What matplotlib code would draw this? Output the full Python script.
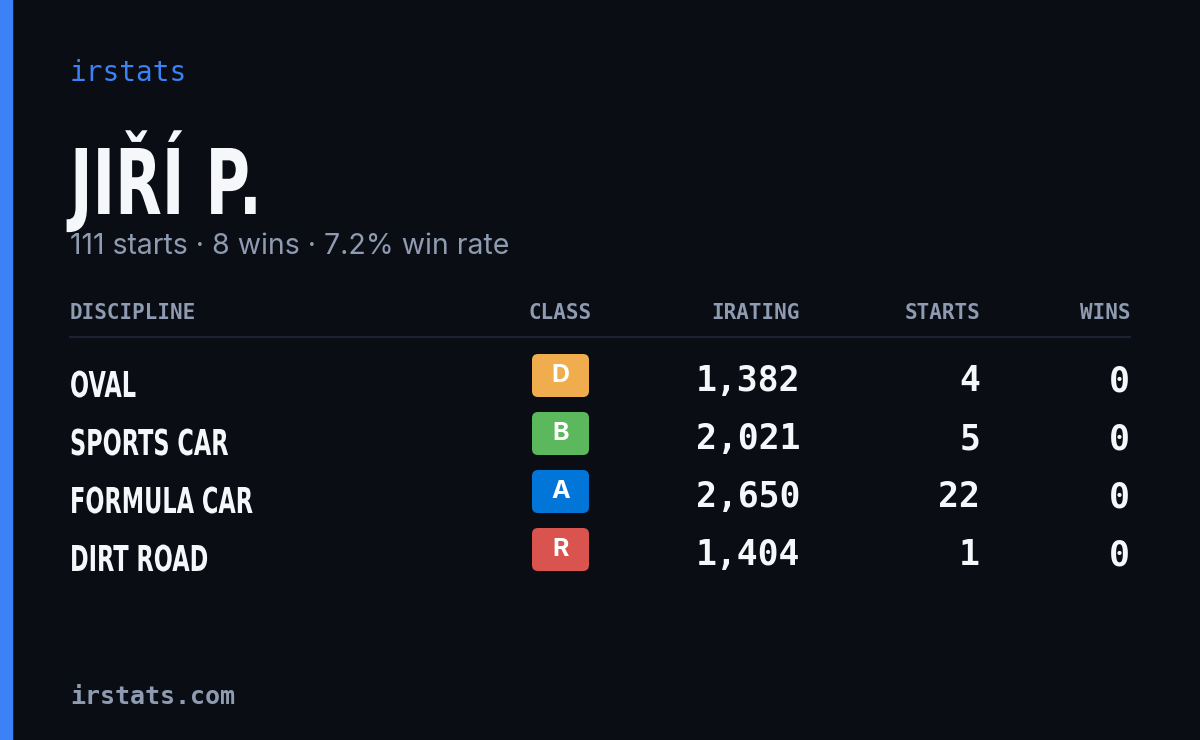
import matplotlib
matplotlib.use("Agg")
import matplotlib.pyplot as plt
from matplotlib.patches import FancyBboxPatch, Rectangle, PathPatch
from matplotlib.textpath import TextPath
from matplotlib.font_manager import FontProperties
from matplotlib.transforms import Affine2D

player = "JIŘÍ P."
summary = "111 starts · 8 wins · 7.2% win rate"
headers = ["DISCIPLINE", "CLASS", "IRATING", "STARTS", "WINS"]
disciplines = ["OVAL", "SPORTS CAR", "FORMULA CAR", "DIRT ROAD"]
classes = ["D", "B", "A", "R"]
ratings = [1382, 2021, 2650, 1404]
starts = [4, 5, 22, 1]
wins = [0, 0, 0, 0]

class_colors = {"D": "#f0ad4e", "B": "#5cb85c", "A": "#0275d8", "R": "#d9534f"}
bg = "#0a0d14"
muted = "#8e9bb0"
white = "#f5f7fa"
mono = "DejaVu Sans Mono"
boldfp = FontProperties(family="DejaVu Sans", weight="bold")

fig = plt.figure(figsize=(12, 7.4), dpi=100, facecolor=bg)
ax = fig.add_axes([0, 0, 1, 1])
ax.set_xlim(0, 1200)
ax.set_ylim(740, 0)
ax.axis("off")

cap_unit = TextPath((0, 0), "H", size=1, prop=boldfp).get_extents().height


def narrow_text(s, x, baseline, cap_px, squeeze):
    # condensed bold text drawn as a squeezed path
    p = TextPath((0, 0), s, size=1, prop=boldfp)
    sy = cap_px / cap_unit
    tr = Affine2D().scale(sy * squeeze, -sy).translate(x, baseline)
    ax.add_patch(PathPatch(tr.transform_path(p), color=white, lw=0))


ax.add_patch(Rectangle((0, 0), 12, 740, color="#3b82f6"))

ax.text(70, 73, "irstats", family=mono, fontsize=20, color="#3b82f6", va="center")
narrow_text(player, 70, 214, 66, 0.67)
ax.text(70, 246, summary, family=["Inter", "DejaVu Sans"], fontsize=20.5, color=muted, va="center")

hx = [70, 560, 800, 980, 1130]
ha = ["left", "center", "right", "right", "right"]
for x, h, a in zip(hx, headers, ha):
    ax.text(x, 313, h, family=mono, fontsize=15, fontweight="bold", color=muted, ha=a, va="center")
ax.plot([70, 1130], [337, 337], color="#1c2230", lw=1.5)

for i, (d, c, r, s, w) in enumerate(zip(disciplines, classes, ratings, starts, wins)):
    y = 384 + i * 58
    narrow_text(d, 70, y + 13, 26, 0.63)
    ax.add_patch(FancyBboxPatch((532, y - 30), 57, 43, boxstyle="round,pad=0,rounding_size=6",
                                color=class_colors[c], lw=0))
    ax.text(560.5, y - 8, c, family=["Inter", "DejaVu Sans"], fontweight="bold", fontsize=18,
            color="white", ha="center", va="center")
    ax.text(800, y - 3, f"{r:,}", family=mono, fontweight="bold", fontsize=25, color=white, ha="right", va="center")
    ax.text(980, y - 3, str(s), family=mono, fontweight="bold", fontsize=25, color=white, ha="right", va="center")
    ax.text(1130, y - 3, str(w), family=mono, fontweight="bold", fontsize=25, color=white, ha="right", va="center")

ax.text(70, 697, "irstats.com", family=mono, fontweight="bold", fontsize=18, color=muted, va="center")

fig.savefig("out.png", dpi=100, facecolor=bg)
